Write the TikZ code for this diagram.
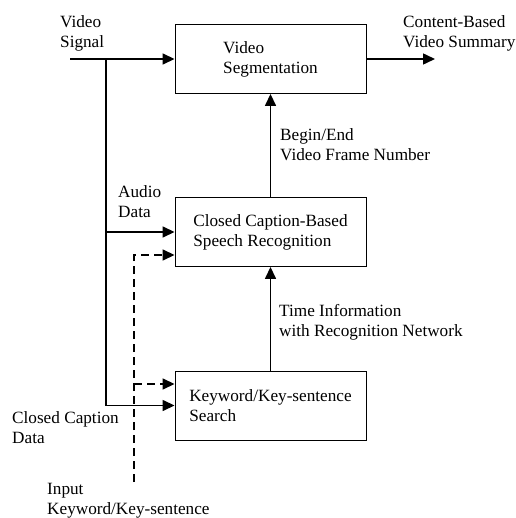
\documentclass[tikz,border=0pt]{standalone}
\usepackage{fontspec}
\setmainfont{Liberation Serif}
\usetikzlibrary{arrows.meta}
\begin{document}
\begin{tikzpicture}[x=1pt, y=-1pt, font=\fontsize{17.2}{20}\selectfont,
	block/.style={draw, line width=0.9pt, minimum width=191pt, minimum height=69pt, align=left, inner sep=0pt},
	lbl/.style={anchor=north west, align=left, inner sep=0pt},
	flow/.style={line width=1.5pt, -{Triangle[length=12pt, width=11pt]}},
	dflow/.style={flow, dash pattern=on 8pt off 5pt}]
	\useasboundingbox (0, 0) rectangle (515, 518);
	\node[block] (seg) at (270.5, 59) {Video\\Segmentation};
	\node[block] (asr) at (270.5, 232) {Closed Caption-Based\\Speech Recognition};
	\node[block] (kws) at (270.5, 405.5) {Keyword/Key-sentence\\Search};
	\node[lbl] (vsig) at (60, 15) {Video\\Signal};
	\node[lbl] (summ) at (403, 15) {Content-Based\\Video Summary};
	\node[lbl] (audio) at (118, 185) {Audio\\Data};
	\node[lbl] (frame) at (280, 128) {Begin/End\\Video Frame Number};
	\node[lbl] (tinfo) at (279, 304) {Time Information\\with Recognition Network};
	\node[lbl] (ccdata) at (12, 411) {Closed Caption\\Data};
	\node[lbl] (kwin) at (47, 483) {Input\\Keyword/Key-sentence};
	\coordinate (sig) at (70, 59);
	\coordinate (split) at (106, 59);
	\coordinate (aud) at (106, 232);
	\coordinate (out) at (435, 59);
	\coordinate (kin) at (134, 482);
	\coordinate (kasr) at (134, 255);
	\coordinate (kkws) at (134, 384);
	\draw[flow] (sig) -- (seg.west);
	\draw[flow] (split) |- (kws.west);
	\draw[flow] (aud) -- (asr.west);
	\draw[flow] (seg.east) -- (out);
	\draw[flow] (asr.north) -- (seg.south);
	\draw[flow] (kws.north) -- (asr.south);
	\draw[dflow] (kin) -- (kasr) -- (kasr -| asr.west);
	\draw[dflow] (kkws) -- (kkws -| kws.west);
\end{tikzpicture}
\end{document}
